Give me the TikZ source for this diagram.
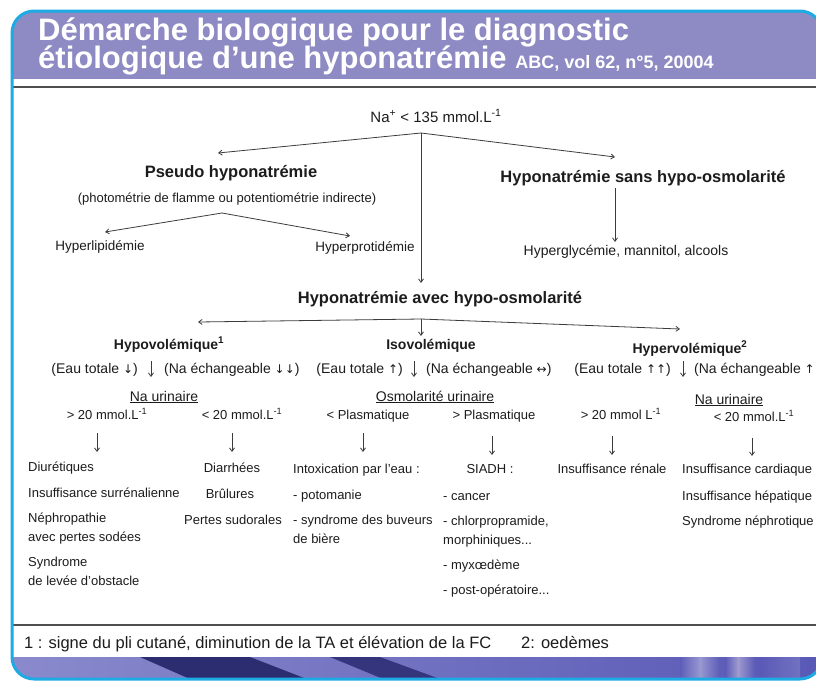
\documentclass[tikz,border=0pt]{standalone}
\usepackage{fontspec}
\setmainfont{Liberation Sans}
\newfontfamily\arrf{DejaVu Sans}
\usetikzlibrary{arrows.meta,calc}
\definecolor{framec}{RGB}{30,170,226}
\definecolor{bandc}{RGB}{142,139,196}
\definecolor{rulec}{RGB}{80,80,80}
\definecolor{inkc}{RGB}{28,28,28}
\definecolor{arrowc}{RGB}{60,60,60}
\definecolor{navyc}{RGB}{44,44,112}
\definecolor{lavc}{RGB}{138,138,204}
\definecolor{bluec}{RGB}{88,88,182}
\newcommand{\fsz}[1]{\fontsize{#1}{#1}\selectfont}
\newcommand{\arw}[1]{{\arrf\fontsize{12}{12}\selectfont #1}}
\tikzset{
  txt/.style={inner sep=0pt, text=inkc, font=\fsz{13}, anchor=base},
  txtw/.style={txt, anchor=base west},
  row/.style={inner sep=0pt, text=inkc, font=\fsz{14}},
  hd/.style={inner sep=0pt, text=inkc, font=\fsz{16.5}\bfseries, anchor=base},
  cls/.style={inner sep=0pt, text=inkc, font=\fsz{14}\bfseries, anchor=base},
  ttl/.style={inner sep=0pt, text=white, font=\fsz{31}\bfseries, anchor=base west},
  arr/.style={draw=arrowc, line width=0.8pt, -{Straight Barb[length=3.5pt,width=5pt]}},
}
\begin{document}
\begin{tikzpicture}[x=1pt,y=-1pt]
\useasboundingbox (0,0) rectangle (816,681);
\fill[white] (0,0) rectangle (816,681);
% frame contents
\begin{scope}
  \clip[rounded corners=22pt] (12,11) rectangle (822,679);
  \fill[bandc] (0,0) rectangle (830,79);
  \shade[left color=lavc, right color=bluec] (0,657) rectangle (830,690);
  \fill[navyc] (140,657) -- (250,657) -- (335,690) -- (215,690) -- cycle;
  \fill[navyc!80!bluec] (330,657) -- (380,657) -- (470,690) -- (410,690) -- cycle;
  \shade[left color=bluec, right color=white, opacity=0.35] (680,657) rectangle (700,690);
  \shade[left color=white, right color=bluec, opacity=0.35] (700,657) rectangle (720,690);
  \shade[left color=bluec, right color=white!80!pink, opacity=0.4] (725,657) rectangle (738,690);
  \shade[left color=white!80!pink, right color=bluec, opacity=0.4] (738,657) rectangle (755,690);
  \shade[left color=bluec, right color=lavc, opacity=0.5] (760,657) rectangle (800,690);
\end{scope}
\draw[rulec, line width=2pt] (12,87) -- (816,87);
\draw[rulec, line width=2pt] (12,625) -- (816,625);
\draw[framec, line width=3pt, rounded corners=22pt] (12,11) rectangle (822,679);

% title
\node[ttl] (t1) at (38,40) {Démarche biologique pour le diagnostic};
\node[ttl] (t2) at (38,68) {étiologique d’une hyponatrémie {\fsz{18}ABC, vol 62, n°5, 20004}};

% top level
\node[txt, font=\fsz{15}] (na) at (436,122) {Na\textsuperscript{+} < 135 mmol.L\textsuperscript{-1}};
\coordinate (b1) at (421,133);
\coordinate (pTip) at (218,153);
\coordinate (sTip) at (615,157);
\coordinate (aTip) at (421,283);
\draw[arr] (b1) -- (pTip);
\draw[arr] (b1) -- (sTip);
\draw[arr] (b1) -- (aTip);

% pseudo branch
\node[hd] (pseudo) at (231,177) {Pseudo hyponatrémie};
\node[txt] (photo) at (227,202.5) {(photométrie de flamme ou potentiométrie indirecte)};
\coordinate (b2) at (222,213);
\coordinate (lipTip) at (105,232);
\coordinate (protTip) at (350,236);
\draw[arr] (b2) -- (lipTip);
\draw[arr] (b2) -- (protTip);
\node[txt, font=\fsz{13.5}] (lip) at (100,250) {Hyperlipidémie};
\node[txt, font=\fsz{13.5}] (prot) at (365,251) {Hyperprotidémie};

% sans hypo-osmolarite
\node[hd] (sans) at (643,182) {Hyponatrémie sans hypo-osmolarité};
\coordinate (sS) at (615,188);
\coordinate (gTip) at (615,242);
\draw[arr] (sS) -- (gTip);
\node[txt, font=\fsz{14}] (glyc) at (626,255) {Hyperglycémie, mannitol, alcools};

% avec hypo-osmolarite
\node[hd] (avec) at (440,303) {Hyponatrémie avec hypo-osmolarité};
\coordinate (b3) at (421,319);
\coordinate (hoTip) at (198,322);
\coordinate (heTip) at (680,329);
\coordinate (isTip) at (421,336);
\draw[arr] (b3) -- (hoTip);
\draw[arr] (b3) -- (heTip);
\draw[arr] (b3) -- (isTip);

\node[cls] (hypo) at (169,349) {Hypovolémique\textsuperscript{1}};
\node[cls] (iso) at (431,349) {Isovolémique};
\node[cls] (hyper) at (690,353) {Hypervolémique\textsuperscript{2}};

% row of water / sodium
\node[row, anchor=base east] (r1a) at (138,373) {(Eau totale \arw{↓})};
\node[row, anchor=base west] (r1b) at (164,373) {(Na échangeable \arw{↓↓})};
\coordinate (s1a) at (151,361);
\coordinate (s1b) at (151,377);
\draw[arr] (s1a) -- (s1b);
\node[row, anchor=base east] (r2a) at (403,373) {(Eau totale \arw{↑})};
\node[row, anchor=base west] (r2b) at (426,373) {(Na échangeable \arw{↔})};
\coordinate (s2a) at (414,361);
\coordinate (s2b) at (414,377);
\draw[arr] (s2a) -- (s2b);
\node[row, anchor=base east] (r3a) at (671,373) {(Eau totale \arw{↑↑})};
\node[row, anchor=base west] (r3b) at (694,373) {(Na échangeable \arw{↑}};
\coordinate (s3a) at (683,361);
\coordinate (s3b) at (683,377);
\draw[arr] (s3a) -- (s3b);

% criteria
\node[row] (nu1) at (164,397) {\underline{Na urinaire}};
\node[row] (osm) at (435,397) {\underline{Osmolarité urinaire}};
\node[row] (nu2) at (729,400) {\underline{Na urinaire}};

% thresholds
\node[txt] (th1) at (107,419) {> 20 mmol.L\textsuperscript{-1}};
\node[txt] (th2) at (242,419) {< 20 mmol.L\textsuperscript{-1}};
\node[txt] (th3) at (368,419) {< Plasmatique};
\node[txt] (th4) at (494,419) {> Plasmatique};
\node[txt] (th5) at (621,419) {> 20 mmol L\textsuperscript{-1}};
\node[txt] (th6) at (754,421) {< 20 mmol.L\textsuperscript{-1}};

% items
\node[txtw] (c1a) at (28,471.5) {Diurétiques};
\node[txtw] (c1b) at (28,497.5) {Insuffisance surrénalienne};
\node[txtw] (c1c) at (28,522.5) {Néphropathie};
\node[txtw] (c1d) at (28,541.5) {avec pertes sodées};
\node[txtw] (c1e) at (28,566.5) {Syndrome};
\node[txtw] (c1f) at (28,585.5) {de levée d'obstacle};

\node[txt] (c2a) at (232,472.5) {Diarrhées};
\node[txt] (c2b) at (230,498.5) {Brûlures};
\node[txt] (c2c) at (233,524.5) {Pertes sudorales};

\node[txtw] (c3a) at (293,473) {Intoxication par l'eau :};
\node[txtw] (c3b) at (293,499) {- potomanie};
\node[txtw] (c3c) at (293,524) {- syndrome des buveurs};
\node[txtw] (c3d) at (293,543) {de bière};

\node[txt] (c4a) at (490,473) {SIADH :};
\node[txtw] (c4b) at (443,500.5) {- cancer};
\node[txtw] (c4c) at (443,525.5) {- chlorpropramide,};
\node[txtw] (c4d) at (443,544.5) {morphiniques...};
\node[txtw] (c4e) at (443,569.5) {- myxœdème};
\node[txtw] (c4f) at (443,594.5) {- post-opératoire...};

\node[txt] (c5a) at (612,473) {Insuffisance rénale};

\node[txtw] (c6a) at (682,473) {Insuffisance cardiaque};
\node[txtw] (c6b) at (682,500.5) {Insuffisance hépatique};
\node[txtw] (c6c) at (682,525.5) {Syndrome néphrotique};

% down arrows from thresholds to items
\coordinate (d1a) at (97,433);  \coordinate (d1b) at (97,452);
\coordinate (d2a) at (232,433); \coordinate (d2b) at (232,452);
\coordinate (d3a) at (363,433); \coordinate (d3b) at (363,452);
\coordinate (d4a) at (492,436); \coordinate (d4b) at (492,455);
\coordinate (d5a) at (612,436); \coordinate (d5b) at (612,455);
\coordinate (d6a) at (752,438); \coordinate (d6b) at (752,456);
\draw[arr] (d1a) -- (d1b);
\draw[arr] (d2a) -- (d2b);
\draw[arr] (d3a) -- (d3b);
\draw[arr] (d4a) -- (d4b);
\draw[arr] (d5a) -- (d5b);
\draw[arr] (d6a) -- (d6b);

% footnote
\node[txtw, font=\fsz{16.5}] (fn1) at (24,648) {1 : signe du pli cutané, diminution de la TA et élévation de la FC};
\node[txtw, font=\fsz{16.5}] (fn2) at (521,648) {2: oedèmes};
\end{tikzpicture}
\end{document}
